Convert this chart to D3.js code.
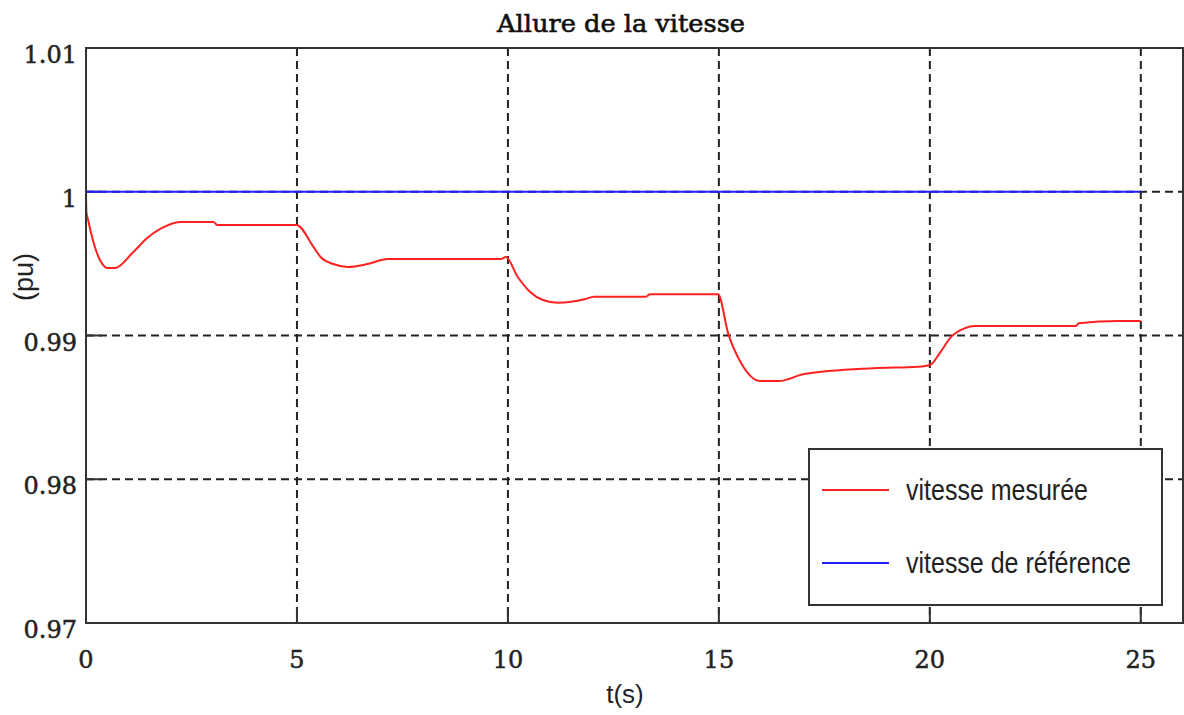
<!DOCTYPE html>
<html>
<head>
<meta charset="utf-8">
<script src="https://cdn.jsdelivr.net/npm/d3@7"></script>
<style>
  html, body { margin: 0; padding: 0; background: #fff; }
  svg { display: block; }
</style>
</head>
<body>
<svg id="chart" width="1184" height="715"></svg>
<script>
// ---- data ----
const title = "Allure de la vitesse";
const xLabel = "t(s)";
const yLabel = "(pu)";
const xTicks = [0, 5, 10, 15, 20, 25];
const yTicks = [0.97, 0.98, 0.99, 1, 1.01];
const yTickLabels = ["0.97", "0.98", "0.99", "1", "1.01"];
const seriesNames = ["vitesse mesurée", "vitesse de référence"];

const tMeasured = [0, 0.01, 0.05, 0.21, 0.33, 0.45, 0.50, 0.69, 1.10, 1.45, 1.76, 2.23, 3.02, 3.11, 4.99,
  5.39, 5.56, 5.86, 6.20, 6.67, 7.15, 9.83, 9.95, 10.23, 10.52, 10.83, 11.18, 11.82, 12.04, 13.27, 13.37,
  14.98, 15.22, 15.53, 15.98, 16.43, 17.02, 18.66, 19.73, 20.01, 20.23, 20.51, 20.82, 21.06, 23.46, 23.53,
  24.48, 25.0];
const vMeasured = [1.0000, 0.99859, 0.99803, 0.99616, 0.99525, 0.99477, 0.99470, 0.99470, 0.99574, 0.99678,
  0.99741, 0.99790, 0.99790, 0.99769, 0.99769, 0.99616, 0.99546, 0.99497, 0.99477, 0.99497, 0.99532, 0.99532,
  0.99546, 0.99409, 0.99305, 0.99247, 0.99228, 0.99252, 0.99270, 0.99270, 0.99287, 0.99287, 0.99015, 0.98807,
  0.98683, 0.98683, 0.98732, 0.98772, 0.98783, 0.98795, 0.98876, 0.98992, 0.99050, 0.99066, 0.99066, 0.99085,
  0.99101, 0.99101];
const tReference = [0, 25];
const vReference = [1, 1];

// ---- layout ----
const svg = d3.select("#chart");
const L = 86, R = 1183, T = 48, B = 623;
const x = d3.scaleLinear().domain([0, 26]).range([L, R]);
const y = d3.scaleLinear().domain([0.97, 1.01]).range([B, T]);
const gridColor = "#222";

// gridlines
const g = svg.append("g");
g.selectAll("line.vg").data(xTicks.filter(d => d > 0)).enter().append("line")
  .attr("x1", d => x(d)).attr("x2", d => x(d)).attr("y1", T).attr("y2", B)
  .attr("stroke", gridColor).attr("stroke-width", 2).attr("stroke-dasharray", "8,5");
g.selectAll("line.hg").data(yTicks.filter(d => d > 0.97 && d < 1.01)).enter().append("line")
  .attr("x1", L).attr("x2", R).attr("y1", d => y(d)).attr("y2", d => y(d))
  .attr("stroke", gridColor).attr("stroke-width", 2).attr("stroke-dasharray", "8,5");

// ticks
g.selectAll("line.xt").data(xTicks.filter(d => d > 0)).enter().append("line")
  .attr("x1", d => x(d)).attr("x2", d => x(d)).attr("y1", B - 16).attr("y2", B)
  .attr("stroke", "#333").attr("stroke-width", 2);
g.selectAll("line.yt").data(yTicks.filter(d => d > 0.97 && d < 1.01)).enter().append("line")
  .attr("x1", L).attr("x2", L + 16).attr("y1", d => y(d)).attr("y2", d => y(d))
  .attr("stroke", "#333").attr("stroke-width", 2);

// series
const line = d3.line().x(d => x(d[0])).y(d => y(d[1]));
svg.append("path").datum(tReference.map((t, i) => [t, vReference[i]]))
  .attr("d", line).attr("fill", "none").attr("stroke", "#2020ff").attr("stroke-width", 2);
svg.append("path").datum(tMeasured.map((t, i) => [t, vMeasured[i]]))
  .attr("d", line.curve(d3.curveMonotoneX)).attr("fill", "none").attr("stroke", "#ff2020").attr("stroke-width", 2);

// frame
svg.append("rect").attr("x", L).attr("y", T).attr("width", R - L).attr("height", B - T)
  .attr("fill", "none").attr("stroke", "#333").attr("stroke-width", 2);

// tick labels
svg.selectAll("text.yl").data(yTicks).enter().append("text")
  .attr("x", 77).attr("y", d => y(d) + 15)
  .attr("text-anchor", "end").attr("font-family", "DejaVu Serif").attr("font-size", 24)
  .attr("fill", "#222").attr("stroke", "#222").attr("stroke-width", 0.5)
  .text((d, i) => yTickLabels[i]);
svg.selectAll("text.xl").data(xTicks).enter().append("text")
  .attr("x", d => x(d)).attr("y", 668)
  .attr("text-anchor", "middle").attr("font-family", "DejaVu Serif").attr("font-size", 24)
  .attr("fill", "#222").attr("stroke", "#222").attr("stroke-width", 0.5)
  .text(d => d);

// title and axis labels
svg.append("text").attr("x", 621).attr("y", 32).attr("text-anchor", "middle")
  .attr("font-family", "DejaVu Serif").attr("font-size", 24).attr("fill", "#111")
  .attr("stroke", "#111").attr("stroke-width", 0.6)
  .attr("textLength", 248).attr("lengthAdjust", "spacingAndGlyphs").text(title);
svg.append("text").attr("x", 625).attr("y", 703).attr("text-anchor", "middle")
  .attr("font-family", "Liberation Sans").attr("font-size", 26).attr("fill", "#222").text(xLabel);
svg.append("text").attr("transform", "translate(33,277) rotate(-90)").attr("text-anchor", "middle")
  .attr("font-family", "Liberation Sans").attr("font-size", 27).attr("fill", "#222").text(yLabel);

// legend
const lg = svg.append("g");
lg.append("rect").attr("x", 809).attr("y", 449).attr("width", 353).attr("height", 156)
  .attr("fill", "#fff").attr("stroke", "#333").attr("stroke-width", 2);
const legendColors = ["#ff2020", "#2020ff"];
const legendY = [490, 563];
const legendW = [182, 225];
seriesNames.forEach((name, i) => {
  lg.append("line").attr("x1", 822).attr("x2", 889).attr("y1", legendY[i]).attr("y2", legendY[i])
    .attr("stroke", legendColors[i]).attr("stroke-width", 2);
  lg.append("text").attr("x", 906).attr("y", legendY[i] + 10)
    .attr("font-family", "Liberation Sans").attr("font-size", 30).attr("fill", "#222")
    .attr("textLength", legendW[i]).attr("lengthAdjust", "spacingAndGlyphs").text(name);
});
</script>
</body>
</html>
